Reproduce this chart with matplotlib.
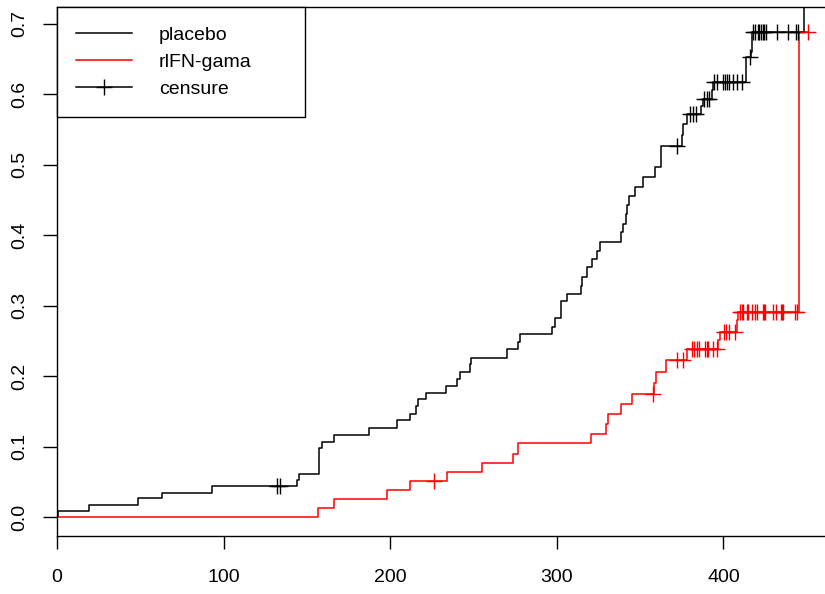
import matplotlib
matplotlib.use("Agg")
import matplotlib.pyplot as plt
from matplotlib.lines import Line2D

plt.rcParams['font.family'] = ['Liberation Sans', 'DejaVu Sans']

# cumulative incidence (1 - KM)
placebo_t = [0.5, 19.4, 48.8, 63, 92.8, 144.3, 145.5, 157, 159, 166.3, 187.5, 204.3,
             211.7, 215.3, 216.8, 221.3, 233.7, 240.3, 242, 247.9, 248.5, 270, 277,
             277.8, 297, 299, 302.3, 305.9, 314.3, 315, 318, 321, 324.3, 326, 338.5,
             340, 341.5, 342.3, 343.3, 347, 352, 359, 362.4, 375, 376, 378, 386.6,
             387.5, 393, 394, 413.4, 416.6, 417.2, 448.4]
placebo_y = [0.0085, 0.0175, 0.0265, 0.0345, 0.0445, 0.053, 0.061, 0.098, 0.106, 0.1164,
             0.127, 0.137, 0.146, 0.157, 0.167, 0.1765, 0.186, 0.196, 0.206, 0.217,
             0.226, 0.238, 0.249, 0.260, 0.269, 0.283, 0.306, 0.3166, 0.328, 0.340,
             0.3545, 0.366, 0.378, 0.390, 0.404, 0.416, 0.430, 0.443, 0.455, 0.469,
             0.483, 0.497, 0.527, 0.542, 0.558, 0.572, 0.583, 0.593, 0.606, 0.617,
             0.653, 0.660, 0.689, 1.0]
placebo_cens_t = [131.8, 133.9, 372.3, 380, 381.5, 383.5, 388.4, 390, 391.5,
                  394.6, 396, 400, 401, 402, 403.5, 406, 408, 411, 416,
                  418, 419, 420.5, 421.5, 422.5, 423.5, 424.5, 425.5, 432, 438.5,
                  443.5, 445]
placebo_cens_y = [0.0445, 0.0445, 0.527, 0.572, 0.572, 0.572, 0.593, 0.593, 0.593,
                  0.617, 0.617, 0.617, 0.617, 0.617, 0.617, 0.617, 0.617, 0.617, 0.653,
                  0.689, 0.689, 0.689, 0.689, 0.689, 0.689, 0.689, 0.689, 0.689, 0.689,
                  0.689, 0.689]

ifn_t = [156.9, 166.3, 198.3, 211.7, 234.3, 254.9, 274, 276.5, 320.5, 329.5, 330.5,
         338.3, 345.1, 358.5, 359.5, 365.5, 378, 397, 398, 408.4, 409, 445.6, 450.8]
ifn_y = [0.0123, 0.026, 0.038, 0.0506, 0.064, 0.076, 0.090, 0.1046, 0.118, 0.132, 0.146,
         0.160, 0.1746, 0.19, 0.206, 0.223, 0.238, 0.251, 0.262, 0.28, 0.2915, 0.689, 0.689]
ifn_cens_t = [226, 358, 372.3, 375.5, 381.4, 382.6, 384, 385.5, 389, 390, 391, 393.6, 396,
              400.4, 401.6, 403.4, 407, 410, 411, 412, 414, 415, 417, 419, 420, 423.5,
              424.2, 425, 429.5, 431.5, 434.6, 435.3, 436, 443, 444, 450.8]
ifn_cens_y = [0.0506, 0.1746, 0.223, 0.223, 0.238, 0.238, 0.238, 0.238, 0.238, 0.238,
              0.238, 0.238, 0.238, 0.262, 0.262, 0.262, 0.262, 0.2915, 0.2915, 0.2915,
              0.2915, 0.2915, 0.2915, 0.2915, 0.2915, 0.2915, 0.2915, 0.2915, 0.2915,
              0.2915, 0.2915, 0.2915, 0.2915, 0.2915, 0.2915, 0.689]

xticks = [0, 100, 200, 300, 400]
yticks = [0.0, 0.1, 0.2, 0.3, 0.4, 0.5, 0.6, 0.7]
ytick_labels = ["0.0", "0.1", "0.2", "0.3", "0.4", "0.5", "0.6", "0.7"]
legend_labels = ["placebo", "rlFN-gama", "censure"]

fig = plt.figure(figsize=(8.25, 5.94), dpi=100)
ax = fig.add_axes([57/825, 58/594, 768/825, 529/594])

lw = 1.1
ax.step([0] + placebo_t, [0] + placebo_y, where='post', color='black', lw=lw)
ax.step([0] + ifn_t, [0] + ifn_y, where='post', color='red', lw=lw)
ax.plot(placebo_cens_t, placebo_cens_y, '+', color='black', ms=12, mew=1.0)
ax.plot(ifn_cens_t, ifn_cens_y, '+', color='red', ms=12, mew=1.0)

ax.set_xlim(0, 461)
ax.set_ylim(-0.027, 0.724)
ax.spines['right'].set_visible(False)
for s in ['left', 'top', 'bottom']:
    ax.spines[s].set_linewidth(1.0)

ax.set_xticks(xticks)
ax.set_yticks(yticks)
ax.set_yticklabels(ytick_labels)
ax.tick_params(axis='x', direction='out', length=9.5, width=1.0, labelsize=14, pad=14)
ax.tick_params(axis='y', direction='out', length=10, width=1.0, labelsize=14, pad=11,
               labelrotation=90)
for lab in ax.get_yticklabels():
    lab.set_va('center')

handles = [Line2D([], [], color='black', lw=lw),
           Line2D([], [], color='red', lw=lw),
           Line2D([], [], color='black', lw=lw, marker='+', ms=12, mew=1.0)]
leg = ax.legend(handles, legend_labels, loc='upper left',
                bbox_to_anchor=(0, 1 - 109/529, 248/768, 109/529), mode='expand',
                borderaxespad=0, fontsize=14, frameon=True, fancybox=False,
                edgecolor='black', framealpha=1, borderpad=1.0, labelspacing=0.48,
                handlelength=2.85, handletextpad=1.4, numpoints=1)
leg.get_frame().set_linewidth(1.0)

fig.savefig('out.png', dpi=100)
